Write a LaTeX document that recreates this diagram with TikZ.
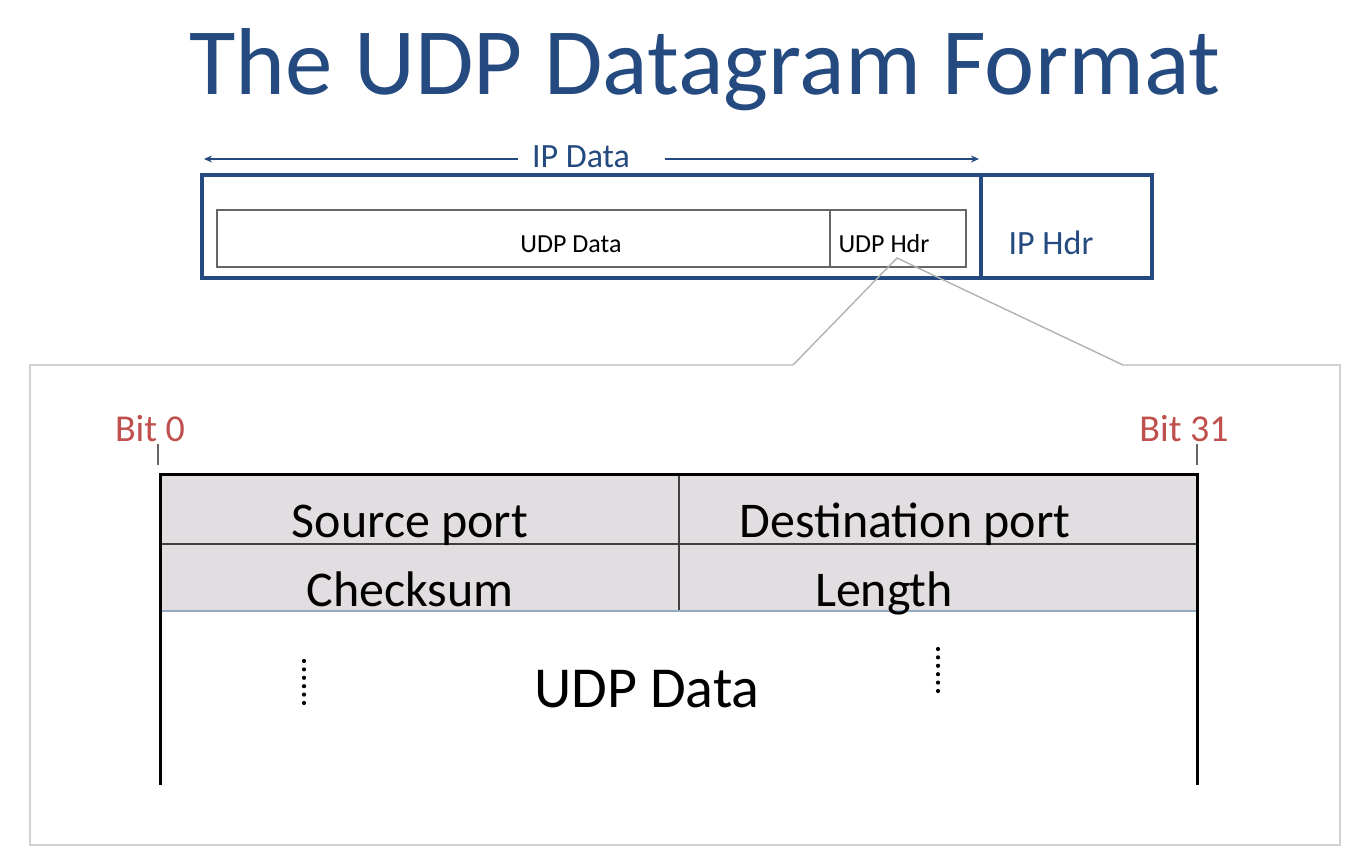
\documentclass[tikz,border=0pt]{standalone}
\usepackage{fontspec}
\setmainfont{Carlito}
\usetikzlibrary{arrows.meta,positioning}
\definecolor{slideblue}{HTML}{244A80}
\definecolor{bitred}{HTML}{C0504D}
\definecolor{hdrgray}{HTML}{E1DDE1}
\definecolor{calloutgray}{HTML}{D2D2D2}
\definecolor{rulegray}{HTML}{93A9BF}

\begin{document}
\begin{tikzpicture}[
  x=0.5pt,
  y=-0.5pt,
  ipbox/.style={draw=slideblue, line width=2pt},
  udpbox/.style={draw=black!60, line width=0.7pt},
  span/.style={-{Stealth[length=4pt,width=3.5pt]}, draw=slideblue, line width=0.6pt},
  callout/.style={draw=calloutgray, line width=1pt},
  frame/.style={draw=black, line width=1.5pt},
  tick/.style={draw=black!60, line width=0.6pt},
  fieldtext/.style={font=\fontsize{25}{30}\selectfont, anchor=base},
  bittext/.style={font=\fontsize{19}{22}\selectfont, text=bitred, anchor=base, inner sep=0pt},
  small/.style={font=\fontsize{13}{15}\selectfont, anchor=base, inner sep=0pt},
  elide/.style={draw=black, line width=2.1pt, line cap=round, dash pattern=on 0pt off 4.2pt}
]
  \useasboundingbox (0,0) rectangle (1372,860);

  % title
  \node[font=\fontsize{47.5}{56}\selectfont, text=slideblue, anchor=base] (title) at (705,95) {The UDP Datagram Format};

  % IP datagram
  \draw[ipbox] (202,175) rectangle (1152,278);
  \draw[ipbox] (981,175) -- (981,278);
  \draw[udpbox] (217,210) rectangle (966,267);
  \draw[udpbox] (830,210) -- (830,267);
  \node[small] (udpdata) at (571,253) {UDP Data};
  \node[small] (udphdr) at (884,253) {UDP Hdr};
  \node[font=\fontsize{17}{20}\selectfont, text=slideblue, anchor=base, inner sep=0pt] (iphdr) at (1051,255) {IP Hdr};

  % IP data span
  \node[font=\fontsize{17}{20}\selectfont, text=slideblue, anchor=base, inner sep=0pt] (ipdata) at (581,168) {IP Data};
  \coordinate (spanL) at (204,159);
  \coordinate (spanR) at (979,159);
  \draw[span] (518,159) -- (spanL);
  \draw[span] (665,159) -- (spanR);

  % callout with the UDP header
  \coordinate (apex) at (897,258);
  \draw[callout] (793,365) -- (30,365) -- (30,845) -- (1340,845) -- (1340,365) -- (1123,365);
  \draw[callout, draw=black!30, line width=0.7pt] (793,365) -- (apex) -- (1123,365);

  % bit positions
  \node[bittext] (bit0) at (150,442) {Bit 0};
  \node[bittext] (bit31) at (1184,442) {Bit 31};
  \draw[tick] (158,444) -- (158,465);
  \draw[tick] (1197,444) -- (1197,465);

  % header rows
  \fill[hdrgray] (160,475) rectangle (1197,611);
  \draw[black!75, line width=0.6pt] (160,544) -- (1197,544);
  \draw[black!75, line width=0.6pt] (679,475) -- (679,611);
  \draw[rulegray, line width=0.9pt] (160,611) -- (1197,611);
  \draw[frame] (160,785) -- (160,475) -- (1197,475) -- (1197,785);

  \node[fieldtext] (srcport) at (410,538) {Source port};
  \node[fieldtext] (dstport) at (905,538) {Destination port};
  \node[fieldtext] (checksum) at (410,607) {Checksum};
  \node[fieldtext] (length) at (884,607) {Length};
  \node[font=\fontsize{29}{34}\selectfont, anchor=base] (payload) at (647,708) {UDP Data};

  % elided data
  \draw[elide] (304,661) -- (304,711);
  \draw[elide] (938,649) -- (938,699);
\end{tikzpicture}
\end{document}
